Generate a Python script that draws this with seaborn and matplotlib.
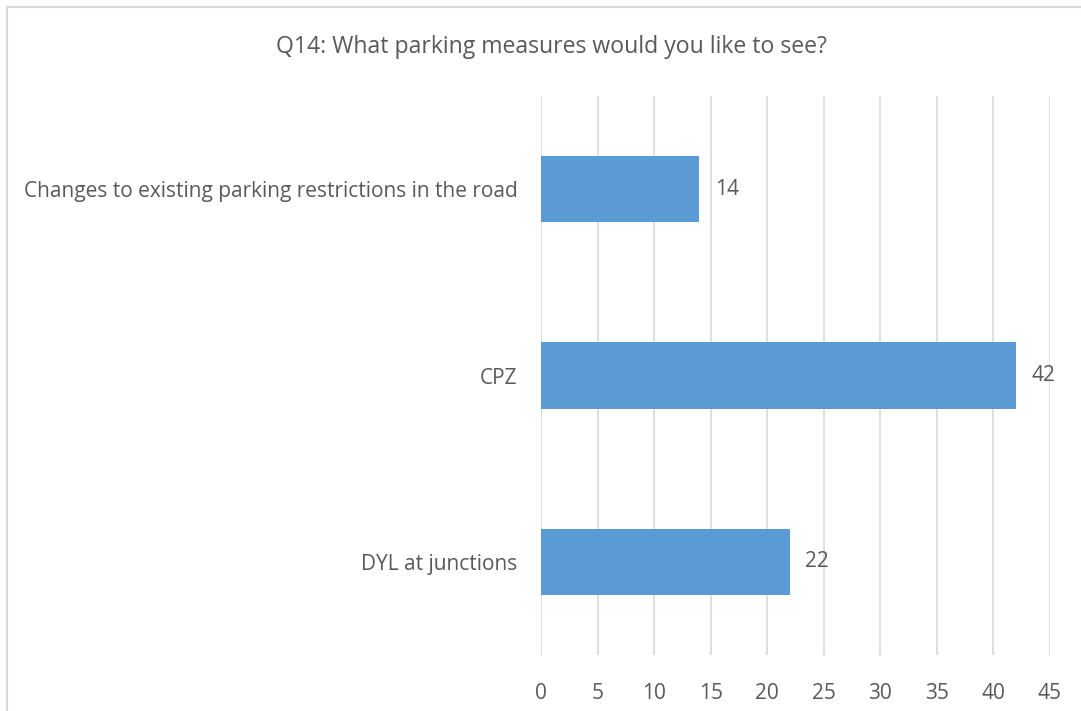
import pandas as pd
import matplotlib
matplotlib.use('Agg')
import matplotlib.pyplot as plt
import seaborn as sns

# dados da pergunta Q14
medidas = ['Changes to existing parking restrictions in the road', 'CPZ', 'DYL at junctions']
respostas = [14, 42, 22]
ticks_x = [0, 5, 10, 15, 20, 25, 30, 35, 40, 45]

df = pd.DataFrame({'medida': medidas, 'respostas': respostas})

sns.set_style('white')
plt.rcParams['font.family'] = ['Open Sans', 'DejaVu Sans']
cinza = '#595959'

fig = plt.figure(figsize=(10.81, 7.11), dpi=100)
ax = fig.add_axes([541 / 1081, 1 - 655 / 711, 509 / 1081, 559 / 711])

sns.barplot(data=df, x='respostas', y='medida', color='#5B9BD5', width=0.355,
            saturation=1, linewidth=0, ax=ax, zorder=3)

ax.set_xlim(0, 45)
ax.set_xticks(ticks_x)
ax.grid(axis='x', color='#D9D9D9', linewidth=1.2, zorder=0)
ax.set_xlabel('')
ax.set_ylabel('')
for s in ax.spines.values():
    s.set_visible(False)
ax.tick_params(axis='both', length=0, colors=cinza, labelsize=15)
ax.tick_params(axis='x', pad=20)
ax.tick_params(axis='y', pad=17)

for cont in ax.containers:
    ax.bar_label(cont, padding=11, color=cinza, fontsize=15)

fig.text(0.51, 1 - 47 / 711, 'Q14: What parking measures would you like to see?',
         ha='center', va='center', color=cinza, fontsize=16.6)

# borda do gráfico
borda = plt.Rectangle((7 / 1081, -0.1), 1.2, 1 - 7 / 711 + 0.1, transform=fig.transFigure,
                      fill=False, edgecolor='#D9D9D9', linewidth=1.5)
fig.patches.append(borda)

fig.savefig('out.png', dpi=100)
